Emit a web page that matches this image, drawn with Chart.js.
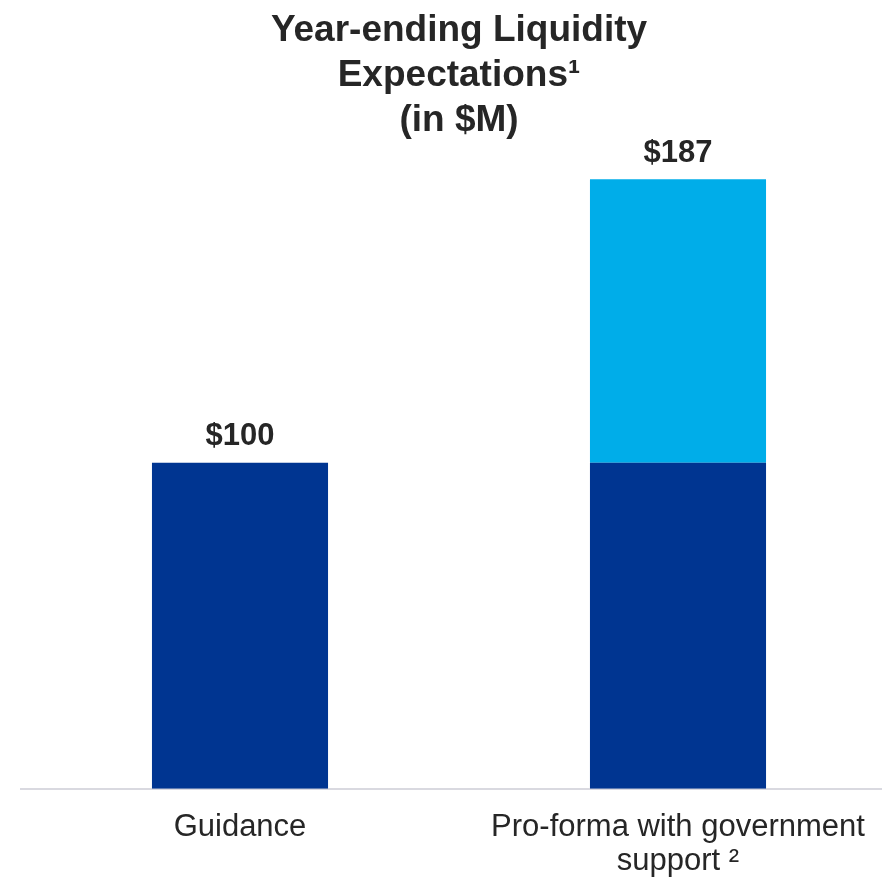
<!DOCTYPE html>
<html>
<head>
<meta charset="utf-8">
<script src="https://cdn.jsdelivr.net/npm/chart.js@4/dist/chart.umd.min.js"></script>
<style>
  html, body { margin: 0; padding: 0; background: #ffffff; overflow: hidden; }
  #wrap { width: 882px; height: 879px; overflow: hidden; }
</style>
</head>
<body>
<div id="wrap">
  <canvas id="liquidityChart" width="918" height="901"></canvas>
</div>
<script>
// données du graphique
var categories = ['Guidance', ['Pro-forma with government', 'support \u00B2']];
var baseValues = [100, 100];
var supportValues = [0, 87];
var totalLabels = ['$100', '$187'];
var titleLines = ['Year-ending Liquidity', 'Expectations\u00B9', '(in $M)'];

var textColor = '#262626';

// étiquettes de total au-dessus des barres
var totalLabelPlugin = {
    id: 'totalLabels',
    afterDatasetsDraw: function(chart) {
        var ctx = chart.ctx;
        var xScale = chart.scales.x;
        var yScale = chart.scales.y;
        ctx.save();
        ctx.font = 'bold 31px "Liberation Sans", Arial, sans-serif';
        ctx.fillStyle = textColor;
        ctx.textAlign = 'center';
        ctx.textBaseline = 'middle';
        for (var i = 0; i < categories.length; i++) {
            var total = baseValues[i] + supportValues[i];
            var x = xScale.getPixelForValue(i);
            var y = yScale.getPixelForValue(total) - 26;
            ctx.fillText(totalLabels[i], x, y);
        }
        ctx.restore();
    }
};

var ctx = document.getElementById('liquidityChart').getContext('2d');
ctx.chart = new Chart(ctx, {
    type: 'bar',
    data: {
        labels: categories,
        datasets: [{
            label: 'Guidance',
            data: baseValues,
            backgroundColor: '#003591',
            borderWidth: 0
        }, {
            label: 'Government support',
            data: supportValues,
            backgroundColor: '#00ADE9',
            borderWidth: 0
        }]
    },
    options: {
        responsive: false,
        animation: false,
        layout: {
            padding: { left: 21, right: 21, top: 0, bottom: 0 }
        },
        datasets: {
            bar: {
                categoryPercentage: 1.0,
                barPercentage: 0.402
            }
        },
        scales: {
            x: {
                stacked: true,
                grid: { display: false, drawTicks: false },
                border: { display: true, color: '#d9d9e0', width: 2 },
                ticks: {
                    color: textColor,
                    padding: 22,
                    font: { family: '"Liberation Sans", Arial, sans-serif', size: 31, lineHeight: 1.1 }
                }
            },
            y: {
                stacked: true,
                display: false,
                min: 0,
                max: 198
            }
        },
        plugins: {
            legend: { display: false },
            tooltip: { enabled: false },
            title: {
                display: true,
                text: titleLines,
                color: textColor,
                padding: { top: 8, bottom: 0 },
                font: { family: '"Liberation Sans", Arial, sans-serif', size: 37, weight: 'bold', lineHeight: 1.22 }
            }
        }
    },
    plugins: [totalLabelPlugin]
});
</script>
</body>
</html>
